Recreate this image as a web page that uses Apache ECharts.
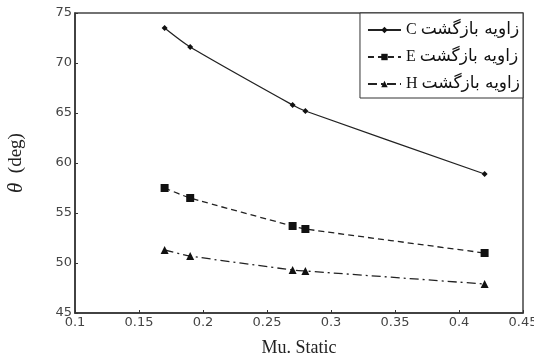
<!DOCTYPE html>
<html>
<head>
<meta charset="utf-8">
<script src="https://cdn.jsdelivr.net/npm/echarts@6/dist/echarts.min.js"></script>
<style>html,body{margin:0;padding:0;background:#fff}#c{width:534px;height:358px}</style>
</head>
<body>
<div id="c"></div>
<script>
var muStatic = [0.17, 0.19, 0.27, 0.28, 0.42];
var persianLabel = 'زاویه بازگشت';
var pointLetters = ['C', 'E', 'H'];
var seriesNames = ['زاویه بازگشت C', 'زاویه بازگشت E', 'زاویه بازگشت H'];
var angleC = [73.5, 71.6, 65.8, 65.2, 58.9];
var angleE = [57.5, 56.5, 53.7, 53.4, 51.0];
var angleH = [51.3, 50.7, 49.3, 49.2, 47.9];
var xTicks = [0.1, 0.15, 0.2, 0.25, 0.3, 0.35, 0.4, 0.45];
var yTicks = [45, 50, 55, 60, 65, 70, 75];

function pairs(ys) { return muStatic.map(function (x, i) { return [x, ys[i]]; }); }

var chart = echarts.init(document.getElementById('c'));
var axisFont = { fontFamily: 'DejaVu Sans', fontSize: 13, color: '#444' };
chart.setOption({
  animation: false,
  backgroundColor: '#fff',
  grid: { left: 75, right: 11, top: 13, bottom: 45, containLabel: false, outerBoundsMode: 'none',
    show: true, borderColor: '#444', borderWidth: 1.5, backgroundColor: 'transparent' },
  legend: {
    orient: 'vertical', right: 11, top: 13,
    padding: [7, 3, 4, 7], itemGap: 7, itemWidth: 33, itemHeight: 8,
    borderColor: '#333', borderWidth: 1, backgroundColor: '#fff',
    data: seriesNames,
    formatter: function (n) {
      var i = seriesNames.indexOf(n);
      return '{l|' + pointLetters[i] + '} {p|' + persianLabel + '}';
    },
    textStyle: { fontFamily: 'Liberation Serif', fontSize: 16, color: '#111', lineHeight: 20,
      rich: {
        l: { fontFamily: 'Liberation Serif', fontSize: 16, color: '#111', lineHeight: 20 },
        p: { fontFamily: 'DejaVu Sans', fontSize: 17, color: '#111', lineHeight: 20 }
      } }
  },
  xAxis: {
    type: 'value', min: xTicks[0], max: xTicks[xTicks.length - 1], interval: 0.05,
    name: 'Mu. Static', nameLocation: 'middle', nameGap: 26,
    nameTextStyle: { fontFamily: 'Liberation Serif', fontSize: 18, color: '#222' },
    axisLine: { lineStyle: { color: '#333', width: 1.5 } },
    axisTick: { inside: true, length: 3, lineStyle: { color: '#333' } },
    axisLabel: Object.assign({ margin: 3, formatter: function (v) { return String(+v.toFixed(2)); } }, axisFont),
    splitLine: { show: false }
  },
  yAxis: {
    type: 'value', min: yTicks[0], max: yTicks[yTicks.length - 1], interval: 5,
    name: '{t|θ}  (deg)', nameLocation: 'middle', nameGap: 48, nameRotate: 90,
    nameTextStyle: { fontFamily: 'Liberation Serif', fontSize: 19, color: '#222',
      rich: { t: { fontFamily: 'Liberation Serif', fontStyle: 'italic', fontSize: 21, color: '#222' } } },
    axisLine: { show: true, lineStyle: { color: '#333', width: 1.5 } },
    axisTick: { show: true, inside: true, length: 3, lineStyle: { color: '#333' } },
    axisLabel: Object.assign({ margin: 3 }, axisFont),
    splitLine: { show: false }
  },
  series: [
    { name: seriesNames[0], type: 'line', data: pairs(angleC), smooth: 0.25,
      symbol: 'diamond', symbolSize: 6, color: '#111',
      lineStyle: { color: '#222', width: 1.3, type: 'solid' }, itemStyle: { color: '#111' } },
    { name: seriesNames[1], type: 'line', data: pairs(angleE), smooth: 0.2,
      symbol: 'rect', symbolSize: 8, color: '#111',
      lineStyle: { color: '#222', width: 1.3, type: [6, 4] }, itemStyle: { color: '#111' } },
    { name: seriesNames[2], type: 'line', data: pairs(angleH), smooth: 0.2,
      symbol: 'triangle', symbolSize: 8, color: '#111',
      lineStyle: { color: '#222', width: 1.3, type: [9, 4, 2, 4] }, itemStyle: { color: '#111' } }
  ]
});
</script>
</body>
</html>
